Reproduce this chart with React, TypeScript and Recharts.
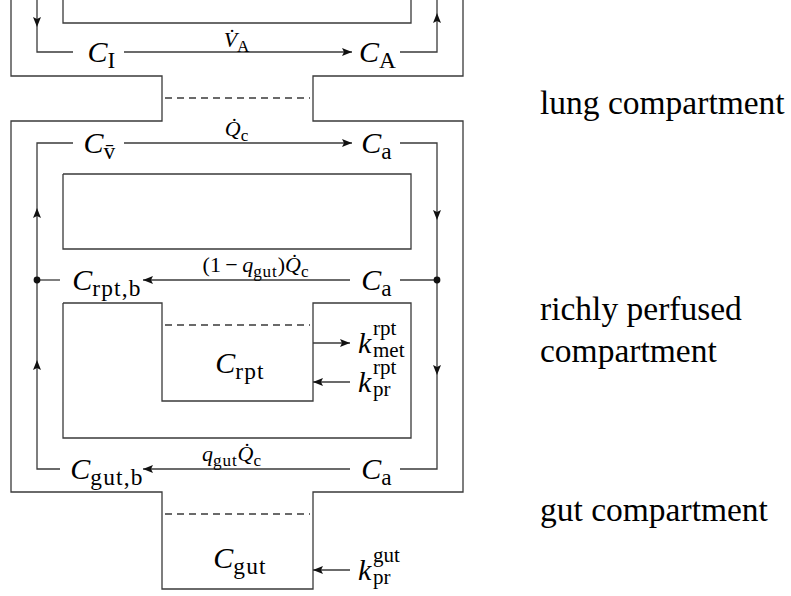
import React from 'react';
import { ComposedChart, XAxis, YAxis, Line, Scatter } from 'recharts';

const FONT = "'Liberation Serif', 'DejaVu Serif', serif";
const INK = '#000';
const STROKE = '#3a3a3a';

type P = [number, number];

// Compartment walls (diagram units = pixels of the reference)
const outerWall: P[] = [[11, 0], [11, 76], [162, 76], [162, 121], [11, 121], [11, 492], [162, 492], [162, 589], [313, 589], [313, 492], [463, 492], [463, 121], [313, 121], [313, 76], [463, 76], [463, 0]];
const lungInner: P[] = [[63, 0], [63, 23], [411, 23], [411, 0]];
const bloodBlock: P[] = [[63, 174], [411, 174], [411, 249], [63, 249], [63, 174]];
const rptTissue: P[] = [[63, 303], [162, 303], [162, 401], [313, 401], [313, 303], [411, 303], [411, 438], [63, 438], [63, 303]];
const membranes: P[][] = [
  [[165, 98], [310, 98]],
  [[165, 325], [310, 325]],
  [[165, 514], [310, 514]],
];
// Flow paths
const flows: P[][] = [
  [[37, 0], [37, 52], [73, 52]],
  [[124, 52], [352, 52]],
  [[400, 52], [437, 52], [437, 0]],
  [[60, 469], [37, 469], [37, 143], [73, 143]],
  [[124, 143], [352, 143]],
  [[400, 143], [437, 143], [437, 469], [400, 469]],
  [[437, 280], [400, 280]],
  [[60, 280], [37, 280]],
  [[350, 280], [143, 280]],
  [[350, 469], [143, 469]],
  [[313, 343], [350, 343]],
  [[350, 382], [313, 382]],
  [[350, 570], [313, 570]],
];
const arrowHeads = [
  { x: 37, y: 27, dir: 'down' },
  { x: 352, y: 52, dir: 'right' },
  { x: 437, y: 13, dir: 'up' },
  { x: 352, y: 143, dir: 'right' },
  { x: 437, y: 220, dir: 'down' },
  { x: 437, y: 375, dir: 'down' },
  { x: 37, y: 208, dir: 'up' },
  { x: 37, y: 360, dir: 'up' },
  { x: 143, y: 280, dir: 'left' },
  { x: 143, y: 469, dir: 'left' },
  { x: 350, y: 343, dir: 'right' },
  { x: 313, y: 382, dir: 'left' },
  { x: 313, y: 570, dir: 'left' },
];
const junctions = [{ x: 37, y: 280 }, { x: 437, y: 280 }];

const nodeLabels = [
  { x: 102, y: 52, tex: 'C_{I}' },
  { x: 378, y: 52, tex: 'C_{A}' },
  { x: 100, y: 143, tex: 'C_{v\u0304}' },
  { x: 377, y: 143, tex: 'C_{a}' },
  { x: 107, y: 280, tex: 'C_{rpt,b}' },
  { x: 377, y: 280, tex: 'C_{a}' },
  { x: 107, y: 469, tex: 'C_{gut,b}' },
  { x: 377, y: 469, tex: 'C_{a}' },
  { x: 240, y: 363, tex: 'C_{rpt}' },
  { x: 240, y: 558, tex: 'C_{gut}' },
];
const flowLabels = [
  { x: 237, y: 40, tex: '\\dot{V}_{A}' },
  { x: 237, y: 129, tex: '\\dot{Q}_{c}' },
  { x: 256, y: 265, tex: '(1\u2009\u2212\u2009q_{gut})\\dot{Q}_{c}' },
  { x: 232, y: 454, tex: 'q_{gut}\\dot{Q}_{c}' },
];
const rateLabels = [
  { x: 358, y: 343, sup: 'rpt', sub: 'met' },
  { x: 358, y: 382, sup: 'rpt', sub: 'pr' },
  { x: 358, y: 570, sup: 'gut', sub: 'pr' },
];
const sideLabels = [
  { x: 540, y: 114, text: 'lung compartment' },
  { x: 540, y: 320, text: 'richly perfused' },
  { x: 540, y: 362, text: 'compartment' },
  { x: 540, y: 521, text: 'gut compartment' },
];

type Seg = { t: string; it: boolean; lv: number };
function parseTex(s: string): Seg[] {
  const out: Seg[] = [];
  let i = 0;
  while (i < s.length) {
    const ch = s[i];
    if ((ch === '_' || ch === '^') && s[i + 1] === '{') {
      const end = s.indexOf('}', i);
      out.push({ t: s.slice(i + 2, end), it: false, lv: ch === '_' ? -1 : 1 });
      i = end + 1;
      continue;
    }
    if (s.startsWith('\\dot{', i)) {
      const end = s.indexOf('}', i);
      out.push({ t: s.slice(i + 5, end) + '\u0307', it: true, lv: 0 });
      i = end + 1;
      continue;
    }
    out.push({ t: ch, it: /[A-Za-z]/.test(ch), lv: 0 });
    i++;
  }
  return out;
}

function TexText({ x, y, tex, fs }: { x: number; y: number; tex: string; fs: number }) {
  const segs = parseTex(tex);
  let cur = 0;
  return (
    <text x={x} y={y + fs * 0.33} textAnchor="middle" fontFamily={FONT} fontSize={fs} fill={INK}>
      {segs.map((s, i) => {
        const target = s.lv === -1 ? fs * 0.2 : s.lv === 1 ? -fs * 0.4 : 0;
        const dy = target - cur;
        cur = target;
        return (
          <tspan
            key={i}
            dy={dy}
            fontSize={s.lv ? fs * 0.78 : fs}
            letterSpacing={s.lv ? fs * 0.04 : 0}
            fontStyle={s.it ? 'italic' : 'normal'}
          >
            {s.t}
          </tspan>
        );
      })}
    </text>
  );
}

const NodeShape = (p: any) => <TexText x={p.cx} y={p.cy} tex={p.payload.tex} fs={30} />;
const FlowShape = (p: any) => <TexText x={p.cx} y={p.cy} tex={p.payload.tex} fs={22} />;
const RateShape = (p: any) => {
  const fs = 30;
  const kw = fs * 0.5;
  return (
    <g fontFamily={FONT} fill={INK}>
      <text x={p.cx} y={p.cy + fs * 0.33} fontSize={fs} fontStyle="italic">k</text>
      <text x={p.cx + kw} y={p.cy - 8} fontSize={fs * 0.7}>{p.payload.sup}</text>
      <text x={p.cx + kw} y={p.cy + 14} fontSize={fs * 0.7}>{p.payload.sub}</text>
    </g>
  );
};
const SideShape = (p: any) => (
  <text x={p.cx} y={p.cy} fontFamily={FONT} fontSize={33.5} fill={INK}>{p.payload.text}</text>
);
const ArrowShape = (p: any) => {
  const L = 10, W = 4;
  const { cx, cy } = p;
  const d = p.payload.dir;
  let pts = '';
  if (d === 'right') pts = `${cx},${cy} ${cx - L},${cy - W} ${cx - L * 0.8},${cy} ${cx - L},${cy + W}`;
  if (d === 'left') pts = `${cx},${cy} ${cx + L},${cy - W} ${cx + L * 0.8},${cy} ${cx + L},${cy + W}`;
  if (d === 'down') pts = `${cx},${cy} ${cx - W},${cy - L} ${cx},${cy - L * 0.8} ${cx + W},${cy - L}`;
  if (d === 'up') pts = `${cx},${cy} ${cx - W},${cy + L} ${cx},${cy + L * 0.8} ${cx + W},${cy + L}`;
  return <polygon points={pts} fill="#111" />;
};
const DotShape = (p: any) => <circle cx={p.cx} cy={p.cy} r={3.4} fill="#111" />;

const toPts = (a: P[]) => a.map(([x, y]) => ({ x, y }));

export default function App() {
  const lines: { pts: P[]; dash?: string }[] = [
    { pts: outerWall },
    { pts: lungInner },
    { pts: bloodBlock },
    { pts: rptTissue },
    ...membranes.map((m) => ({ pts: m, dash: '7 5' })),
    ...flows.map((f) => ({ pts: f })),
  ];
  return (
    <div style={{ position: 'absolute', left: 0, top: 0, width: 791, height: 596, background: '#fff' }}>
      <ComposedChart width={791} height={596} margin={{ top: 0, right: 0, bottom: 0, left: 0 }}>
        <XAxis type="number" dataKey="x" domain={[0, 791]} allowDataOverflow hide />
        <YAxis type="number" dataKey="y" domain={[0, 596]} reversed allowDataOverflow hide />
        {lines.map((l, i) => (
          <Line
            key={'l' + i}
            data={toPts(l.pts)}
            dataKey="y"
            stroke={STROKE}
            strokeWidth={1.3}
            strokeDasharray={l.dash}
            dot={false}
            activeDot={false}
            isAnimationActive={false}
            type="linear"
          />
        ))}
        <Scatter data={arrowHeads} dataKey="y" shape={ArrowShape} isAnimationActive={false} />
        <Scatter data={junctions} dataKey="y" shape={DotShape} isAnimationActive={false} />
        <Scatter data={nodeLabels} dataKey="y" shape={NodeShape} isAnimationActive={false} />
        <Scatter data={flowLabels} dataKey="y" shape={FlowShape} isAnimationActive={false} />
        <Scatter data={rateLabels} dataKey="y" shape={RateShape} isAnimationActive={false} />
        <Scatter data={sideLabels} dataKey="y" shape={SideShape} isAnimationActive={false} />
      </ComposedChart>
    </div>
  );
}
